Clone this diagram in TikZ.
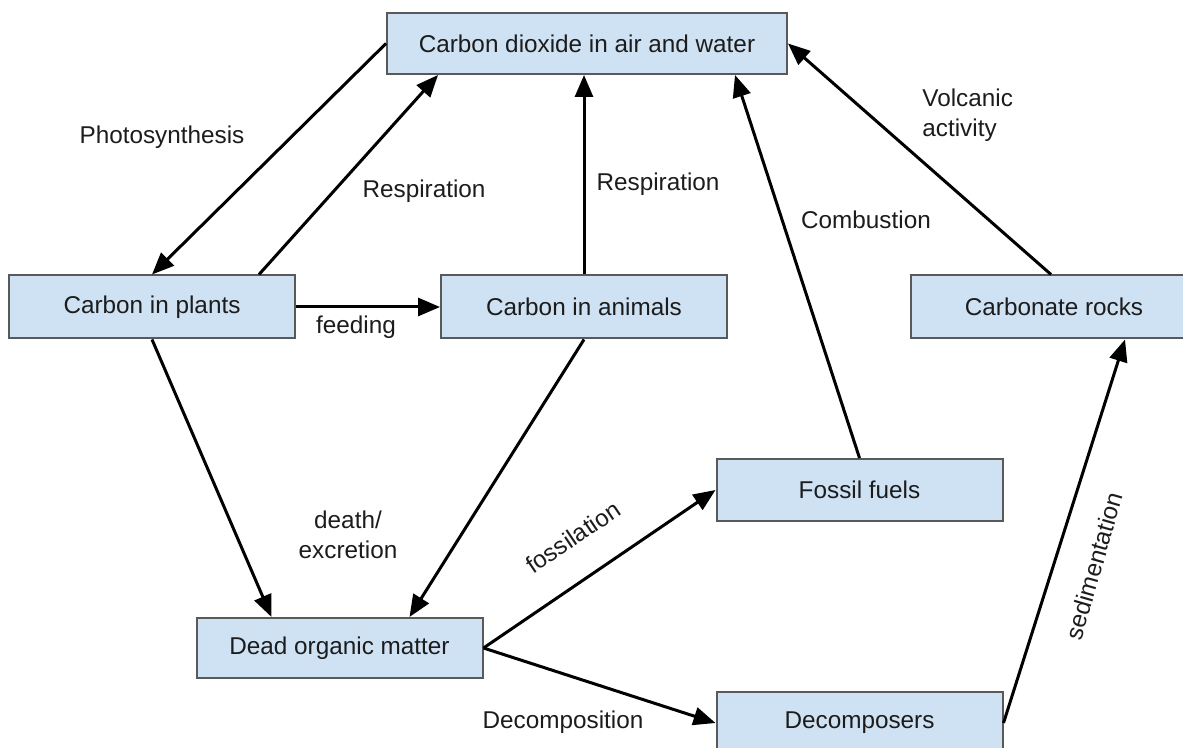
\documentclass[tikz,border=0pt]{standalone}
\usepackage{fontspec}
\setmainfont{Liberation Sans}
\usetikzlibrary{arrows.meta,calc}
\definecolor{boxfill}{HTML}{CFE2F3}
\definecolor{boxline}{HTML}{595959}
\definecolor{txt}{HTML}{1C1C1C}
\begin{document}
\begin{tikzpicture}[x=0.5pt,y=-0.5pt,
  box/.style={draw=boxline,line width=1pt,fill=boxfill,minimum width=143pt,minimum height=31.5pt,inner sep=0pt,text=txt,font=\fontsize{12.15pt}{15pt}\selectfont},
  lbl/.style={text=txt,font=\fontsize{12.15pt}{15pt}\selectfont,inner sep=0pt},
  arr/.style={-{Triangle[length=11pt,width=9pt]},line width=1.5pt,black}]
\useasboundingbox (0,0) rectangle (1183,748);
\clip (0,0) rectangle (1183,748);
\node[box,minimum width=200pt,minimum height=30.5pt] (co2) at (587,43.5) {Carbon dioxide in air and water};
\node[box] (plants) at (152,307) {Carbon in plants};
\node[box] (animals) at (584,307) {Carbon in animals};
\node[box] (rocks) at (1054,307) {Carbonate rocks};
\node[box,minimum height=31pt] (fossil) at (859.5,490) {Fossil fuels};
\node[box,minimum height=30pt] (dead) at (339.5,648) {Dead organic matter};
\node[box,minimum height=31pt] (decomp) at (859.5,723) {Decomposers};
% connectors
\draw[arr] (co2.west) -- (plants.north);
\draw[arr] ($(plants.north)+(107,0)$) -- ($(co2.south)+(-149,0)$);
\draw[arr] (plants.east) -- (animals.west);
\draw[arr] (animals.north) -- (animals.north |- co2.south);
\draw[arr] (fossil.north) -- ($(co2.south)+(148,0)$);
\draw[arr] ($(rocks.north)+(-3,0)$) -- (co2.east);
\draw[arr] (plants.south) -- ($(dead.north)+(-68,0)$);
\draw[arr] (animals.south) -- ($(dead.north)+(70,0)$);
\draw[arr] (dead.east) -- (fossil.west);
\draw[arr] (dead.east) -- (decomp.west);
\draw[arr] (decomp.east) -- ($(rocks.south)+(71,0)$);
% labels
\node[lbl] (lphoto) at (162,137) {Photosynthesis};
\node[lbl] (lresp1) at (424,191) {Respiration};
\node[lbl] (lresp2) at (658,184) {Respiration};
\node[lbl] (lcomb) at (866,220) {Combustion};
\node[lbl,align=left,anchor=west] (lvolc) at (922,115) {Volcanic\\activity};
\node[lbl] (lfeed) at (356,327) {feeding};
\node[lbl,align=center] (ldeath) at (348,535) {death/\\excretion};
\node[lbl,rotate=34] (lfoss) at (573,537) {fossilation};
\node[lbl] (ldecomp) at (563,722) {Decomposition};
\node[lbl,rotate=74] (lsed) at (1094,566) {sedimentation};
\end{tikzpicture}
\end{document}
